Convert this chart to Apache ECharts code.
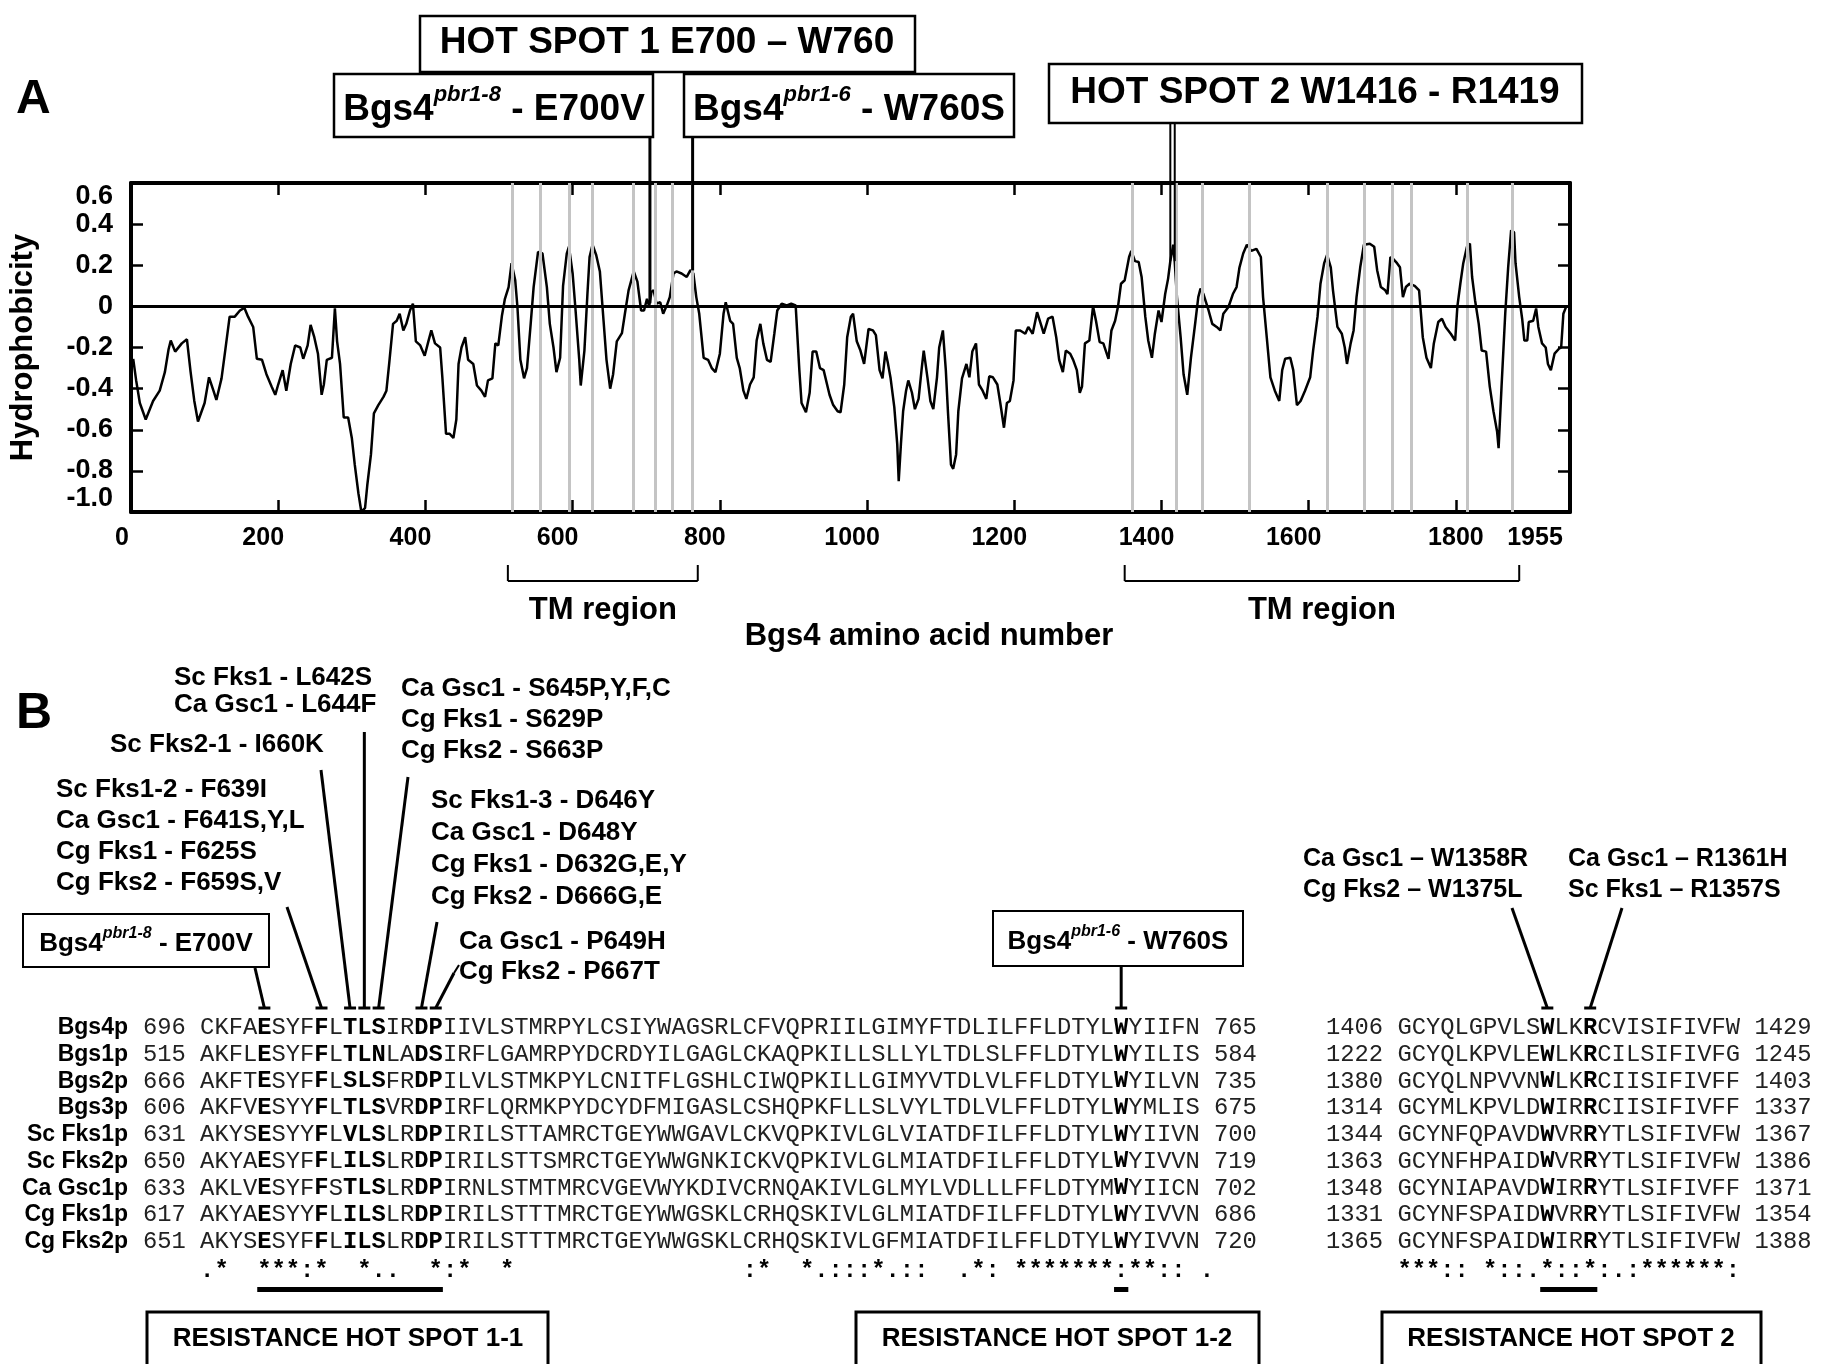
<!DOCTYPE html>
<html>
<head>
<meta charset="utf-8">
<script src="https://cdn.jsdelivr.net/npm/echarts/dist/echarts.min.js"></script>
<style>
  html, body { margin: 0; padding: 0; background: #fff; }
  #chart { width: 1821px; height: 1364px; }
</style>
</head>
<body>
<div id="chart"></div>
<script>
// Bgs4 hydrophobicity profile: residue position and value
const residuePos = [
  3,7,12,20,30,39,46,51,54,60,69,76,81,86,91,100,106,112,116,123,128,134,141,148,154,159,166,171,178,184,
  191,196,200,206,211,217,223,230,234,240,244,249,254,259,262,266,273,277,280,284,289,295,300,304,309,313,318,321,326,330,
  336,343,347,351,356,361,365,370,374,379,383,387,393,399,404,408,413,420,423,428,433,438,442,445,449,454,458,465,470,476,
  481,485,491,495,499,504,508,513,517,522,525,529,534,538,543,547,553,559,565,569,574,578,583,587,592,595,600,604,609,611,
  616,620,623,627,632,637,642,646,651,655,660,667,671,676,683,688,693,697,701,704,707,710,714,719,723,728,732,737,741,748,
  755,760,764,768,772,778,784,789,794,800,805,808,814,818,823,827,832,836,841,846,850,855,859,864,869,874,878,884,891,897,
  903,908,911,917,922,926,931,936,941,949,954,960,964,969,973,978,981,986,991,996,1002,1008,1012,1017,1021,1025,1028,1032,1037,1041,
  1043,1046,1049,1053,1056,1061,1065,1070,1074,1077,1082,1086,1090,1095,1098,1103,1107,1110,1114,1117,1121,1124,1129,1135,1139,1143,1148,1152,1157,1162,
  1166,1171,1177,1181,1186,1190,1194,1199,1202,1208,1215,1219,1225,1231,1236,1240,1246,1252,1257,1261,1266,1270,1276,1280,1285,1289,1292,1296,1302,1307,
  1311,1316,1321,1328,1332,1337,1341,1345,1350,1356,1359,1364,1369,1373,1378,1382,1387,1391,1396,1400,1405,1409,1412,1416,1418,1421,1426,1430,1435,1440,
  1446,1450,1453,1457,1464,1469,1475,1480,1484,1491,1497,1502,1506,1511,1516,1522,1529,1535,1538,1543,1548,1554,1560,1564,1568,1575,1579,1584,1589,1595,
  1602,1606,1612,1616,1621,1625,1630,1633,1639,1645,1649,1652,1657,1661,1665,1670,1675,1683,1689,1693,1698,1704,1707,1711,1715,1720,1724,1728,1732,1737,
  1744,1750,1755,1760,1766,1770,1776,1781,1786,1793,1799,1802,1806,1810,1815,1819,1822,1826,1831,1835,1841,1846,1851,1856,1858,1862,1867,1871,1875,1879,
  1881,1886,1890,1893,1897,1899,1905,1909,1912,1917,1922,1925,1929,1934,1940,1943,1946,1950
];
const hydrophobicity = [
  -0.255,-0.36,-0.47,-0.55,-0.46,-0.41,-0.32,-0.21,-0.166,-0.22,-0.18,-0.16,-0.32,-0.46,-0.56,-0.47,-0.345,-0.41,-0.455,-0.35,-0.215,-0.05,-0.05,-0.02,-0.007,-0.05,-0.10,-0.255,-0.26,-0.33,
  -0.39,-0.43,-0.38,-0.31,-0.41,-0.28,-0.19,-0.20,-0.255,-0.19,-0.09,-0.15,-0.23,-0.43,-0.38,-0.26,-0.25,-0.01,-0.17,-0.28,-0.54,-0.54,-0.64,-0.77,-0.91,-1.0,-0.98,-0.87,-0.72,-0.52,
  -0.48,-0.44,-0.41,-0.27,-0.085,-0.07,-0.036,-0.117,-0.085,-0.02,0.013,-0.17,-0.19,-0.24,-0.17,-0.117,-0.18,-0.20,-0.345,-0.62,-0.62,-0.64,-0.55,-0.28,-0.20,-0.15,-0.26,-0.28,-0.385,-0.41,
  -0.44,-0.36,-0.35,-0.18,-0.19,-0.044,0.037,0.094,0.21,0.127,-0.003,-0.26,-0.35,-0.30,-0.085,0.094,0.265,0.257,0.094,-0.085,-0.20,-0.32,-0.25,0.10,0.257,0.29,0.16,-0.02,-0.26,-0.385,
  -0.215,0.054,0.24,0.30,0.25,0.17,-0.07,-0.26,-0.40,-0.33,-0.17,-0.13,-0.036,0.078,0.17,0.12,-0.02,-0.02,0.037,0,0.07,0.078,0.013,0.02,-0.036,0.005,0.045,0.16,0.17,0.16,
  0.143,0.176,0.16,0.045,-0.036,-0.25,-0.26,-0.30,-0.32,-0.23,-0.036,0.02,-0.07,-0.085,-0.25,-0.30,-0.41,-0.45,-0.38,-0.345,-0.166,-0.085,-0.18,-0.26,-0.27,-0.133,-0.02,0.013,0.005,0.013,
  0.005,-0.31,-0.47,-0.515,-0.42,-0.22,-0.22,-0.30,-0.31,-0.43,-0.48,-0.51,-0.515,-0.38,-0.15,-0.05,-0.036,-0.17,-0.215,-0.28,-0.11,-0.117,-0.14,-0.31,-0.35,-0.22,-0.27,-0.35,-0.49,-0.67,
  -0.85,-0.67,-0.51,-0.41,-0.36,-0.42,-0.50,-0.45,-0.31,-0.215,-0.345,-0.46,-0.50,-0.345,-0.20,-0.117,-0.31,-0.52,-0.77,-0.79,-0.72,-0.51,-0.35,-0.28,-0.345,-0.22,-0.18,-0.38,-0.41,-0.45,
  -0.34,-0.345,-0.38,-0.47,-0.59,-0.47,-0.46,-0.36,-0.117,-0.117,-0.133,-0.10,-0.133,-0.028,-0.085,-0.133,-0.06,-0.05,-0.15,-0.26,-0.32,-0.215,-0.23,-0.26,-0.31,-0.42,-0.39,-0.18,-0.166,0,
  -0.07,-0.174,-0.18,-0.255,-0.117,-0.07,0,0.11,0.127,0.24,0.27,0.22,0.216,0.143,-0.05,-0.166,-0.25,-0.133,-0.02,-0.076,0.06,0.135,0.22,0.30,0.216,0.045,-0.15,-0.33,-0.43,-0.25,
  -0.076,0.045,0.086,0.06,-0.02,-0.085,-0.10,-0.117,-0.036,-0.003,0.06,0.094,0.19,0.257,0.30,0.27,0.28,0.24,0.045,-0.15,-0.345,-0.41,-0.46,-0.31,-0.255,-0.25,-0.31,-0.48,-0.46,-0.41,
  -0.345,-0.215,-0.05,0.11,0.21,0.25,0.19,0.078,-0.10,-0.133,-0.20,-0.28,-0.18,-0.117,0.045,0.19,0.30,0.305,0.29,0.176,0.094,0.078,0.06,0.24,0.23,0.21,0.19,0.045,0.094,0.11,
  0.10,0.078,-0.15,-0.25,-0.30,-0.18,-0.076,-0.06,-0.10,-0.133,-0.166,0,0.11,0.21,0.29,0.305,0.143,0.03,-0.085,-0.215,-0.22,-0.39,-0.51,-0.61,-0.69,-0.39,-0.036,0.19,0.37,0.36,
  0.21,0.045,-0.06,-0.166,-0.166,-0.076,-0.07,-0.01,-0.10,-0.18,-0.20,-0.28,-0.31,-0.23,-0.206,-0.20,-0.036,0
];
// grey lines: predicted TM segment positions
const tmLines = [518,556,595,626,682,712,736,762,1360,1420,1455,1519,1625,1675,1713,1739,1816,1876];
// TM region brackets (residue ranges)
const tmRegions = [[512, 770], [1350, 1886]];

// alignment, hot spot 1
const seqNames = ['Bgs4p','Bgs1p','Bgs2p','Bgs3p','Sc Fks1p','Sc Fks2p','Ca Gsc1p','Cg Fks1p','Cg Fks2p'];
const hs1Start = [696, 515, 666, 606, 631, 650, 633, 617, 651];
const hs1End = [765, 584, 735, 675, 700, 719, 702, 686, 720];
const hs1Seq = [
  'CKFAESYFFLTLSIRDPIIVLSTMRPYLCSIYWAGSRLCFVQPRIILGIMYFTDLILFFLDTYLWYIIFN',
  'AKFLESYFFLTLNLADSIRFLGAMRPYDCRDYILGAGLCKAQPKILLSLLYLTDLSLFFLDTYLWYILIS',
  'AKFTESYFFLSLSFRDPILVLSTMKPYLCNITFLGSHLCIWQPKILLGIMYVTDLVLFFLDTYLWYILVN',
  'AKFVESYYFLTLSVRDPIRFLQRMKPYDCYDFMIGASLCSHQPKFLLSLVYLTDLVLFFLDTYLWYMLIS',
  'AKYSESYYFLVLSLRDPIRILSTTAMRCTGEYWWGAVLCKVQPKIVLGLVIATDFILFFLDTYLWYIIVN',
  'AKYAESYFFLILSLRDPIRILSTTSMRCTGEYWWGNKICKVQPKIVLGLMIATDFILFFLDTYLWYIVVN',
  'AKLVESYFFSTLSLRDPIRNLSTMTMRCVGEVWYKDIVCRNQAKIVLGLMYLVDLLLFFLDTYMWYIICN',
  'AKYAESYYFLILSLRDPIRILSTTTMRCTGEYWWGSKLCRHQSKIVLGLMIATDFILFFLDTYLWYIVVN',
  'AKYSESYFFLILSLRDPIRILSTTTMRCTGEYWWGSKLCRHQSKIVLGFMIATDFILFFLDTYLWYIVVN'
];
const hs1Bold = [4, 8, 10, 11, 12, 15, 16, 64];
const hs1Consensus = '.*  ***:*  *..  *:*  *' + ' '.repeat(16) + ':*  *.:::*.::  .*: *******:**:: .';

// alignment, hot spot 2
const hs2Start = [1406, 1222, 1380, 1314, 1344, 1363, 1348, 1331, 1365];
const hs2End = [1429, 1245, 1403, 1337, 1367, 1386, 1371, 1354, 1388];
const hs2Seq = [
  'GCYQLGPVLSWLKRCVISIFIVFW',
  'GCYQLKPVLEWLKRCILSIFIVFG',
  'GCYQLNPVVNWLKRCIISIFIVFF',
  'GCYMLKPVLDWIRRCIISIFIVFF',
  'GCYNFQPAVDWVRRYTLSIFIVFW',
  'GCYNFHPAIDWVRRYTLSIFIVFW',
  'GCYNIAPAVDWIRRYTLSIFIVFF',
  'GCYNFSPAIDWVRRYTLSIFIVFW',
  'GCYNFSPAIDWIRRYTLSIFIVFW'
];
const hs2Bold = [10, 13];
const hs2Consensus = '***:: *::.*::*:.:******:';

// mutation labels in panel B: text, left x, centre y
const mutLabels = [
  ['Sc Fks1 - L642S', 174, 678], ['Ca Gsc1 - L644F', 174, 705],
  ['Sc Fks2-1 - I660K', 110, 745],
  ['Sc Fks1-2 - F639I', 56, 790], ['Ca Gsc1 - F641S,Y,L', 56, 821],
  ['Cg Fks1 - F625S', 56, 852], ['Cg Fks2 - F659S,V', 56, 883],
  ['Ca Gsc1 - S645P,Y,F,C', 401, 689], ['Cg Fks1 - S629P', 401, 720], ['Cg Fks2 - S663P', 401, 751],
  ['Sc Fks1-3 - D646Y', 431, 801], ['Ca Gsc1 - D648Y', 431, 833],
  ['Cg Fks1 - D632G,E,Y', 431, 865], ['Cg Fks2 - D666G,E', 431, 897],
  ['Ca Gsc1 - P649H', 459, 942], ['Cg Fks2 - P667T', 459, 972]
];
const mutLabels2 = [
  ['Ca Gsc1 \u2013 W1358R', 1303, 859], ['Cg Fks2 \u2013 W1375L', 1303, 890],
  ['Ca Gsc1 \u2013 R1361H', 1568, 859], ['Sc Fks1 \u2013 R1357S', 1568, 890]
];

const SANS = '"Liberation Sans", Arial, sans-serif';
const MONO = '"Liberation Mono", "Courier New", monospace';

const chart = echarts.init(document.getElementById('chart'));

const frameAxis = {
  type: 'value', min: 0, max: 1955, interval: 200,
  axisLine: { show: true, onZero: false, lineStyle: { color: '#000', width: 4 } },
  axisTick: { show: true, inside: true, length: 12, lineStyle: { color: '#000', width: 2.5 } },
  splitLine: { show: false }
};
const frameYAxis = {
  type: 'value', min: -1, max: 0.6, interval: 0.2,
  axisLine: { show: true, onZero: false, lineStyle: { color: '#000', width: 4 } },
  axisTick: { show: true, inside: true, length: 12, lineStyle: { color: '#000', width: 2.5 } },
  splitLine: { show: false }
};
const xLabStyle = { fontSize: 25, fontWeight: 'bold', fontFamily: SANS, color: '#000' };

const option = {
  animation: false,
  backgroundColor: '#fff',
  grid: { left: 131, top: 183, width: 1439, height: 329, containLabel: false, outerBoundsMode: 'none' },
  xAxis: [
    Object.assign({}, frameAxis, {
      position: 'bottom',
      axisLabel: {
        show: true, margin: 14, showMaxLabel: true, showMinLabel: true,
        formatter: function (v) {
          const k = v === 0 ? 'z' : (v === 1800 ? 'e' : (v === 1955 ? 'm' : 'a'));
          return '{' + k + '|' + v + '}';
        },
        rich: {
          a: Object.assign({ padding: [0, 30, 0, 0] }, xLabStyle),
          z: Object.assign({ padding: [0, 18, 0, 0] }, xLabStyle),
          e: Object.assign({ padding: [0, 0, 0, 0] }, xLabStyle),
          m: Object.assign({ padding: [0, 70, 0, 0] }, xLabStyle)
        }
      }
    }),
    Object.assign({}, frameAxis, { position: 'top', axisLabel: { show: false } })
  ],
  yAxis: [
    Object.assign({}, frameYAxis, {
      position: 'left',
      name: 'Hydrophobicity', nameLocation: 'middle', nameGap: 92, nameRotate: 90,
      nameTextStyle: { fontSize: 31, fontWeight: 'bold', fontFamily: SANS, color: '#000' },
      axisLabel: {
        show: true, margin: 18, fontSize: 27, fontWeight: 'bold', fontFamily: SANS, color: '#000',
        verticalAlignMaxLabel: 'top', verticalAlignMinLabel: 'bottom',
        formatter: function (v) { return Math.abs(v) < 1e-9 ? '0' : v.toFixed(1); }
      }
    }),
    Object.assign({}, frameYAxis, { position: 'right', axisLabel: { show: false } })
  ],
  series: [{
    type: 'line',
    data: residuePos.map(function (p, i) { return [p, hydrophobicity[i]]; }),
    showSymbol: false,
    lineStyle: { color: '#000', width: 2.5 },
    z: 3,
    markLine: {
      silent: true, symbol: ['none', 'none'], label: { show: false },
      data: tmLines.map(function (p) {
        return { xAxis: p, lineStyle: { color: '#c4c4c4', width: 3, type: 'solid' } };
      }).concat([{ yAxis: 0, lineStyle: { color: '#000', width: 3, type: 'solid' } }])
    }
  }]
};
chart.setOption(option);

// ---------- annotations ----------
const g = [];
function text(x, y, str, size, opts) {
  opts = opts || {};
  g.push({
    type: 'text', x: x, y: y, z: 100,
    rotation: opts.rotation || 0,
    style: {
      text: str, fontSize: size, fontWeight: opts.weight || 'bold',
      fontFamily: opts.family || SANS, fill: opts.fill || '#000',
      align: opts.align || 'left', verticalAlign: 'middle', rich: opts.rich
    }
  });
}
function line(x1, y1, x2, y2, w) {
  g.push({ type: 'line', z: 100, shape: { x1: x1, y1: y1, x2: x2, y2: y2 },
    style: { stroke: '#000', lineWidth: w || 3 } });
}
function box(x, y, w, h, lw) {
  g.push({ type: 'rect', z: 99, shape: { x: x, y: y, width: w, height: h },
    style: { fill: '#fff', stroke: '#000', lineWidth: lw || 2.5 } });
}
function bgsLabel(size, supSize, sup, rest) {
  return {
    text: '{m|Bgs4}{s|' + sup + '}{m|' + rest + '}',
    rich: {
      m: { fontSize: size, fontWeight: 'bold', fontFamily: SANS, lineHeight: size * 1.2, verticalAlign: 'bottom' },
      s: { fontSize: supSize, fontWeight: 'bold', fontStyle: 'italic', fontFamily: SANS,
           lineHeight: supSize * 1.3, verticalAlign: 'top' }
    }
  };
}
function px(aa, v) { return chart.convertToPixel({ xAxisIndex: 0, yAxisIndex: 0 }, [aa, v]); }

// panel A
text(16, 100, 'A', 48);
box(420, 16, 495, 56);
text(667, 43, 'HOT SPOT 1 E700 \u2013 W760', 37, { align: 'center' });
box(334, 74, 319, 63);
let lb = bgsLabel(37, 22, 'pbr1-8', ' - E700V');
text(494, 106, lb.text, 37, { align: 'center', rich: lb.rich });
box(684, 74, 330, 63);
lb = bgsLabel(37, 22, 'pbr1-6', ' - W760S');
text(849, 106, lb.text, 37, { align: 'center', rich: lb.rich });
box(1049, 64, 533, 59);
text(1315, 93, 'HOT SPOT 2 W1416 - R1419', 37, { align: 'center' });

// lines from the boxes to the profile
[[705, 137, 0.015], [763, 137, 0.175], [1412, 123, 0.22], [1418, 123, 0.22]].forEach(function (a) {
  const p = px(a[0], a[2]);
  line(p[0], a[1], p[0], p[1], a[0] > 1400 ? 2 : 3);
});

// TM region brackets
tmRegions.forEach(function (r) {
  const x1 = px(r[0], 0)[0], x2 = px(r[1], 0)[0];
  line(x1, 565, x1, 581, 2);
  line(x2, 565, x2, 581, 2);
  line(x1, 581, x2, 581, 2);
  text((x1 + x2) / 2, 610, 'TM region', 31, { align: 'center' });
});
text(929, 636, 'Bgs4 amino acid number', 31, { align: 'center' });

// panel B
text(16, 714, 'B', 50);
mutLabels.forEach(function (m) { text(m[1], m[2], m[0], 26); });
mutLabels2.forEach(function (m) { text(m[1], m[2], m[0], 25); });

const MONO_SIZE = 23.8, CW = MONO_SIZE * 0.6;
const LX = 143, RX = 1326;
const LSEQ = LX + 4 * CW, RSEQ = RX + 5 * CW;
function rowY(i) { return 1028 + i * 26.7; }
function richSeq(seq, bold) {
  let s = '';
  for (let i = 0; i < seq.length; i++) {
    s += bold.indexOf(i) >= 0 ? '{b|' + seq[i] + '}' : '{n|' + seq[i] + '}';
  }
  return s;
}
const monoRich = {
  n: { fontSize: MONO_SIZE, fontFamily: MONO, fontWeight: 'normal', fill: '#222' },
  b: { fontSize: MONO_SIZE, fontFamily: MONO, fontWeight: 'bold', fill: '#000' }
};
seqNames.forEach(function (name, i) {
  const y = rowY(i);
  text(128, y, name, 23, { align: 'right' });
  text(LX, y, '{n|' + hs1Start[i] + ' }' + richSeq(hs1Seq[i], hs1Bold) + '{n| ' + hs1End[i] + '}',
    MONO_SIZE, { family: MONO, rich: monoRich });
  text(RX, y, '{n|' + hs2Start[i] + ' }' + richSeq(hs2Seq[i], hs2Bold) + '{n| ' + hs2End[i] + '}',
    MONO_SIZE, { family: MONO, rich: monoRich });
});
text(LSEQ, rowY(9) + 3, hs1Consensus, MONO_SIZE, { family: MONO, weight: 'bold' });
text(RSEQ, rowY(9) + 3, hs2Consensus, MONO_SIZE, { family: MONO, weight: 'bold' });

// underline bars for the hot spots
function bar(x0, i0, i1) {
  g.push({ type: 'rect', z: 100, shape: { x: x0 + i0 * CW, y: 1287, width: (i1 - i0) * CW, height: 5 },
    style: { fill: '#000' } });
}
bar(LSEQ, 4, 17);
bar(LSEQ, 64, 65);
bar(RSEQ, 10, 14);

// pointer lines with T ends
const TY = 1008;
function pointer(x1, y1, x0, idx) {
  const xe = x0 + (idx + 0.5) * CW;
  line(x1, y1, xe, TY, 3);
  line(xe - 6, TY, xe + 6, TY, 3);
}
box(23, 914, 246, 53, 2);
lb = bgsLabel(26, 16, 'pbr1-8', ' - E700V');
text(146, 941, lb.text, 26, { align: 'center', rich: lb.rich });
box(993, 911, 250, 55, 2);
lb = bgsLabel(26, 16, 'pbr1-6', ' - W760S');
text(1118, 939, lb.text, 26, { align: 'center', rich: lb.rich });

pointer(255, 968, LSEQ, 4);
pointer(287, 907, LSEQ, 8);
pointer(321, 770, LSEQ, 10);
pointer(LSEQ + 11.5 * CW, 732, LSEQ, 11);
pointer(408, 777, LSEQ, 12);
pointer(437, 922, LSEQ, 15);
pointer(454, 973, LSEQ, 16);
line(454, 973, 459, 965, 2);
pointer(LSEQ + 64.5 * CW, 966, LSEQ, 64);
pointer(1512, 908, RSEQ, 10);
pointer(1622, 908, RSEQ, 13);

// resistance hot spot boxes
box(147, 1312, 401, 80, 3);
text(348, 1339, 'RESISTANCE HOT SPOT 1-1', 26, { align: 'center' });
box(856, 1312, 403, 80, 3);
text(1057, 1339, 'RESISTANCE HOT SPOT 1-2', 26, { align: 'center' });
box(1382, 1312, 379, 80, 3);
text(1571, 1339, 'RESISTANCE HOT SPOT 2', 26, { align: 'center' });

chart.setOption({ graphic: g });
</script>
</body>
</html>
